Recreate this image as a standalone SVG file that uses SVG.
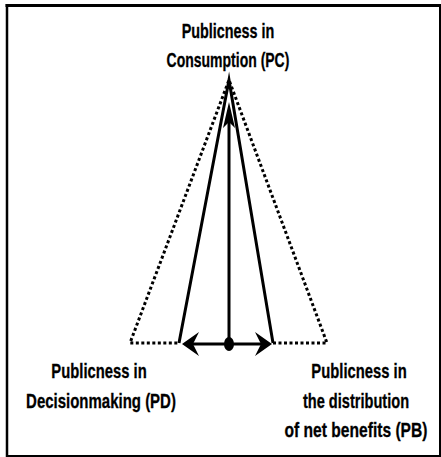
<svg xmlns="http://www.w3.org/2000/svg" width="441" height="457" viewBox="0 0 441 457">
<style>
.lbl{font-family:"Liberation Sans",Arial,sans-serif;font-weight:bold;font-size:20px;fill:#000;stroke:#000;stroke-width:0.3;text-anchor:middle}
.solid{fill:none;stroke:#000;stroke-width:3;stroke-linejoin:miter;stroke-miterlimit:20}
.dot{fill:none;stroke:#000;stroke-width:3;stroke-dasharray:3 2.5}
.frame{stroke:#000;fill:none}
</style>
<rect width="441" height="457" fill="#fff"/>
<g id="frame">
<line class="frame" x1="5.5" y1="5.5" x2="441" y2="5.5" stroke-width="3"/>
<line class="frame" x1="7" y1="4" x2="7" y2="457" stroke-width="2.5"/>
<line class="frame" x1="440" y1="4" x2="440" y2="457" stroke-width="2"/>
<line class="frame" x1="6" y1="456" x2="441" y2="456" stroke-width="2"/>
</g>
<g id="connectors">
<polyline class="dot" points="273,343 327,343 229,80 130,343 179,343"/>
<polyline class="solid" points="179,343 229,80 273,343"/>
<line x1="188" y1="344" x2="267" y2="344" stroke="#000" stroke-width="3"/>
<polygon points="182,344 199,332 193,344 199,356" fill="#000"/>
<polygon points="272,344 255,332 261,344 255,356" fill="#000"/>
<line x1="229" y1="344" x2="229" y2="115" stroke="#000" stroke-width="3"/>
<polygon points="229,102 235,128 229,122 223,128" fill="#000"/>
<ellipse cx="229" cy="344" rx="5" ry="7" fill="#000"/>
</g>
<g id="PC">
<text class="lbl" transform="translate(228,38) scale(0.72,1)">Publicness in</text>
<text class="lbl" transform="translate(228,67) scale(0.7,1)">Consumption (PC)</text>
</g>
<g id="PD">
<text class="lbl" transform="translate(99,378) scale(0.74,1)">Publicness in</text>
<text class="lbl" transform="translate(101,408) scale(0.75,1)">Decisionmaking (PD)</text>
</g>
<g id="PB">
<text class="lbl" transform="translate(359,378) scale(0.74,1)">Publicness in</text>
<text class="lbl" transform="translate(356,408) scale(0.73,1)">the distribution</text>
<text class="lbl" transform="translate(356,437) scale(0.78,1)">of net benefits (PB)</text>
</g>
</svg>
